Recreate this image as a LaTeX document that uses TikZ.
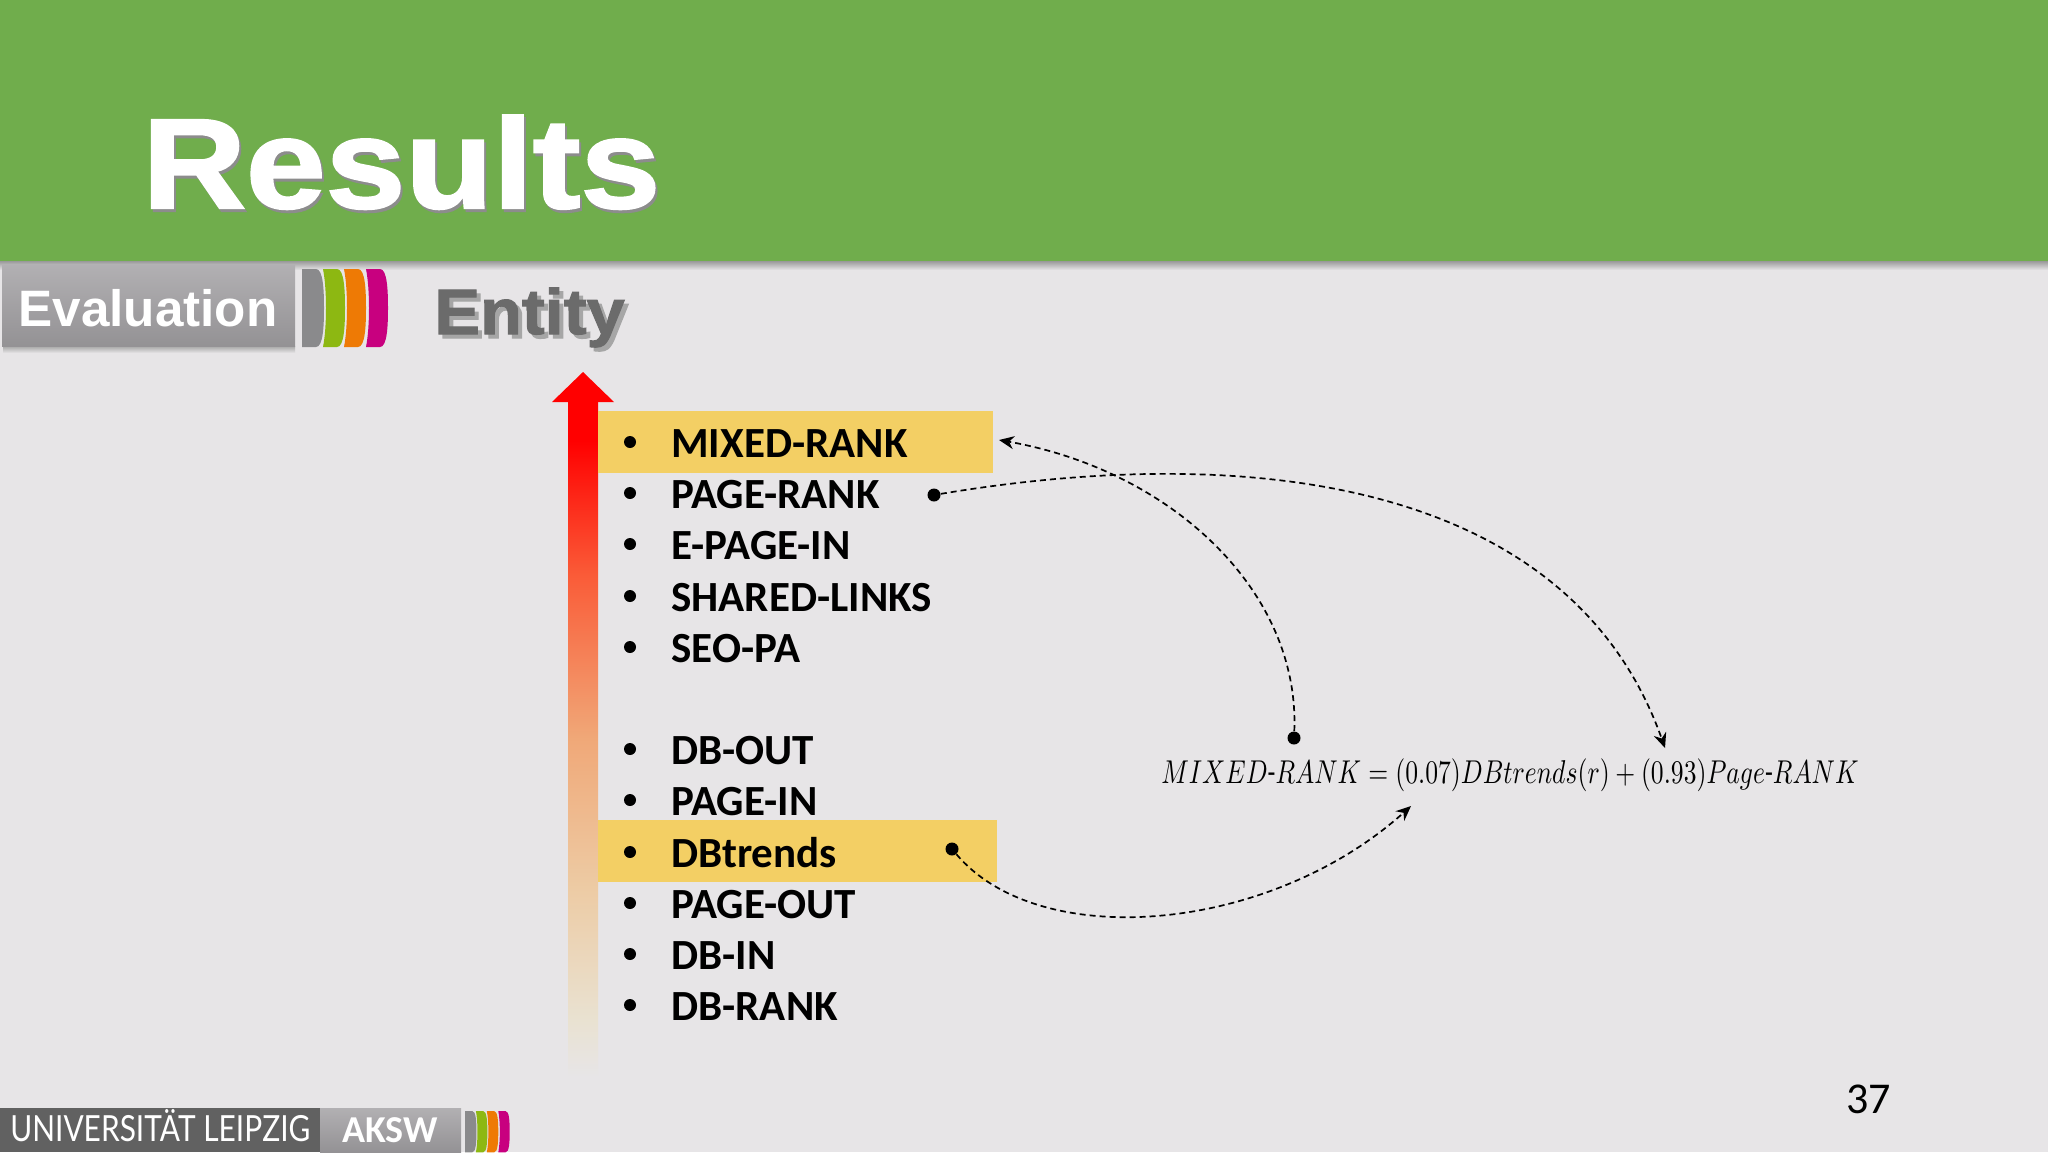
\documentclass[tikz,border=0pt]{standalone}
\usepackage{fontspec}
\usepackage{amsmath}
\setmainfont{Carlito}
\newfontfamily\headfont{Liberation Sans}
\newfontfamily\heavyfont[BoldFeatures={FakeBold=1.6}]{Liberation Sans}
\newfontfamily\footfont{Lato}
\usetikzlibrary{arrows.meta}
\definecolor{slidebg}{HTML}{E7E5E7}
\definecolor{bandgreen}{HTML}{70AD4C}
\definecolor{markyellow}{HTML}{F3CF64}
\definecolor{boxgray}{HTML}{A4A2A5}
\definecolor{stripegray}{HTML}{8A8A8C}
\definecolor{stripegreen}{HTML}{8DB812}
\definecolor{stripeorange}{HTML}{EE7A05}
\definecolor{stripepink}{HTML}{C8007F}
\definecolor{fadecream}{HTML}{E9E2D2}
\definecolor{fadesand}{HTML}{EDCBA4}
\definecolor{fadeorange}{HTML}{F0A878}
\definecolor{fadesalmon}{HTML}{FA5C38}
\pgfdeclareverticalshading{rankfade}{100bp}{color(0bp)=(slidebg); color(25bp)=(slidebg); color(29bp)=(fadecream); color(39bp)=(fadesand); color(50bp)=(fadeorange); color(62bp)=(fadesalmon); color(72bp)=(red); color(100bp)=(red)}
\tikzset{
	entry/.style={anchor=base west,inner sep=0pt,font=\fontsize{21.5}{24}\selectfont\bfseries},
	bullet/.style={circle,fill=black,inner sep=0pt,minimum size=6pt},
	dot/.style={circle,fill=black,inner sep=0pt,minimum size=6.5pt},
	link/.style={densely dashed,line width=0.85pt,-{Stealth[length=7.5pt,width=6.5pt]}},
	titletext/.style={anchor=base west,inner sep=0pt,xscale=1.12,font=\heavyfont\fontsize{64}{64}\selectfont\bfseries},
	entitytext/.style={anchor=base west,inner sep=0pt,xscale=1.07,font=\heavyfont\fontsize{32}{32}\selectfont\bfseries},
	stripes/.pic={
		\foreach \c/\s/\b in {stripegray/0/0,stripegreen/21/4,stripeorange/42/4,stripepink/64/4}
			\fill[\c] (\s,0) -- (\s+14,0) .. controls (\s+21,0) and (\s+22,20) .. (\s+22,39)
				.. controls (\s+22,58) and (\s+21,78) .. (\s+14,78) -- (\s,78)
				.. controls (\s+\b,58) and (\s+\b,20) .. (\s,0) -- cycle;
	}
}
\begin{document}
\begin{tikzpicture}[x=0.5pt,y=-0.5pt]
\useasboundingbox (0,0) rectangle (2048,1152);
\fill[slidebg] (0,0) rectangle (2048,1152);
% title band
\fill[top color=black!40,bottom color=slidebg] (0,261) rectangle (2048,270);
\fill[bandgreen] (0,0) rectangle (2048,261);
\node[titletext,text=black!45] (resultsshadow) at (144,211) {Results};
\node[titletext,text=white] (results) at (142,208) {Results};
% section tab
\fill[top color=black!35,bottom color=slidebg] (3,346) rectangle (295,353);
\fill[top color=boxgray!85!white,bottom color=boxgray!90!black] (2,265) rectangle (295,346);
\node[anchor=base west,inner sep=0pt,font=\headfont\fontsize{25.6}{26}\selectfont\bfseries,text=white] (evaluation) at (18,326) {Evaluation};
\pic at (302,269) {stripes};
\node[entitytext,text=black!35] (entityshadow) at (438,338) {Entity};
\node[entitytext,text=black!58] (entity) at (434,334) {Entity};
% ranking arrow
\fill[shading=rankfade] (568,400) rectangle (598,1077);
\fill[red] (583,372) -- (614,402) -- (552,402) -- cycle;
% highlights
\fill[markyellow] (598,411) rectangle (993,473);
\fill[markyellow] (598,820) rectangle (997,882);
% list
\foreach \p/\y/\t in {mixedrank/457/MIXED-RANK,pagerank/508/PAGE-RANK,epagein/559/E-PAGE-IN,sharedlinks/611/SHARED-LINKS,seopa/662/SEO-PA,dbout/764/DB-OUT,pagein/815/PAGE-IN,dbtrends/867/DBtrends,pageout/918/PAGE-OUT,dbin/969/DB-IN,dbrank/1020/DB-RANK}{
	\node[entry] (\p) at (671,\y) {\t};
	\node[bullet] (b\p) at (630,\y-15) {};
}
% formula
\node[inner sep=0pt,xscale=1.28,yscale=1.65] (formula) at (1510,775) {$MIXED\text{-}RANK = (0.07)DBtrends(r) + (0.93)Page\text{-}RANK$};
% links
\node[dot] (dotpage) at (934,495) {};
\node[dot] (dotmixed) at (1294,738) {};
\node[dot] (dotdb) at (952,849) {};
\coordinate (endmixed) at (999,440);
\coordinate (endpage) at (1665,748);
\coordinate (enddb) at (1411,806);
\draw[link] (dotpage) .. controls (1250,442) and (1570,480) .. (endpage);
\draw[link] (dotmixed) .. controls (1300,590) and (1170,470) .. (endmixed);
\draw[link] (dotdb) .. controls (1040,953) and (1270,933) .. (enddb);
% page number
\node[anchor=base east,inner sep=0pt,font=\fontsize{22}{24}\selectfont] (pagenum) at (1891,1113) {37};
% footer
\fill[black!62] (0,1108) rectangle (320,1152);
\fill[top color=boxgray!85!white,bottom color=boxgray!90!black] (320,1108) rectangle (461,1152);
\node[anchor=base west,inner sep=0pt,xscale=0.83,font=\footfont\fontsize{18}{18}\selectfont,text=white] (leipzig) at (10,1141) {UNIVERSITÄT LEIPZIG};
\node[anchor=base west,inner sep=0pt,font=\fontsize{19}{20}\selectfont\bfseries,text=white] (aksw) at (342,1142) {AKSW};
\pic[xscale=0.52,yscale=0.53] at (465,1111) {stripes};
\end{tikzpicture}
\end{document}
